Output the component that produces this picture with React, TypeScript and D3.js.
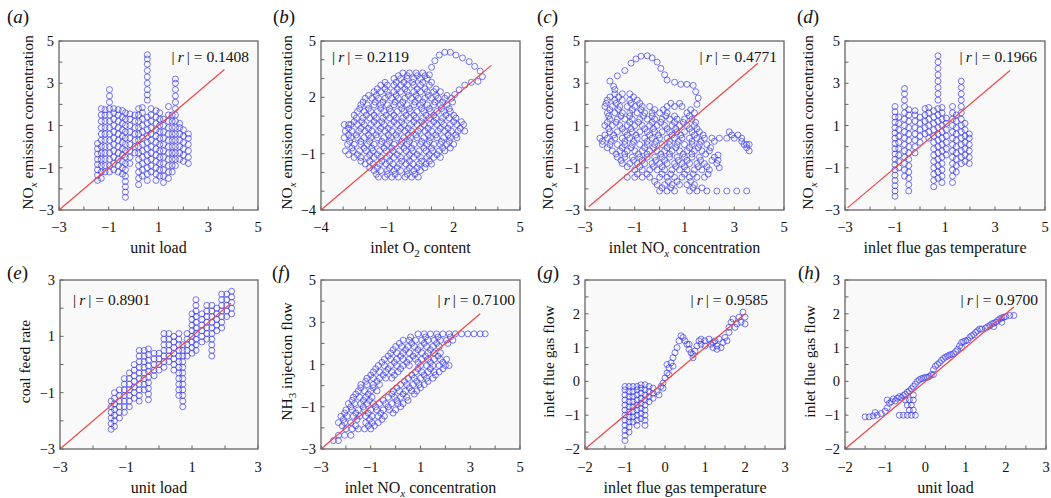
import React from "react";
import * as d3 from "d3";

type Pt = [number, number];
type Strip = [number, number[]];
type Seg = { t: string; sub?: boolean; it?: boolean };

// vertical strips: [x, [y values]]  /  horizontal rows: [y, [x values]]
const fromCols = (cols: Strip[]): Pt[] => cols.flatMap(([x, ys]) => ys.map((v) => [x, v] as Pt));
const fromRows = (rows: Strip[]): Pt[] => rows.flatMap(([v, xs]) => xs.map((x) => [x, v] as Pt));

// (a) unit load vs NOx emission
const colsA: Strip[] = [
  [-1.45, [-1.6, -1.35, -1.1, -0.85, -0.6, -0.35, -0.1, 0.15]],
  [-1.3, [-1.5, -1.2, -0.9, -0.6, -0.3, 0, 0.3, 0.6, 0.9, 1.2, 1.5, 1.8]],
  [-1.15, [-1.2, -0.9, -0.6, -0.3, 0, 0.3, 0.6, 0.9, 1.2, 1.5, 1.75]],
  [-0.97, [-1.2, -0.9, -0.6, -0.3, 0, 0.3, 0.6, 0.9, 1.2, 1.5, 1.8, 2.1, 2.4, 2.7]],
  [-0.8, [-1.1, -0.8, -0.5, -0.2, 0.1, 0.4, 0.7, 1.0, 1.3, 1.6, 1.8]],
  [-0.62, [-1.2, -0.9, -0.6, -0.3, 0, 0.3, 0.6, 0.9, 1.2, 1.5, 1.75]],
  [-0.45, [-1.3, -1.0, -0.7, -0.4, -0.1, 0.2, 0.5, 0.8, 1.1, 1.4, 1.7]],
  [-0.33, [-2.4, -2.15, -1.9, -1.65, -1.4, -1.1, -0.8, -0.5, -0.2, 0.1, 0.4, 0.7, 1.0, 1.3, 1.6]],
  [-0.15, [-0.8, -0.5, -0.2, 0.1, 0.4, 0.7, 1.0, 1.3, 1.55]],
  [0.05, [-0.3, 0, 0.3, 0.6, 0.9, 1.2, 1.5]],
  [0.2, [-1.8, -1.5, -1.2, -0.9, -0.6, -0.3, 0, 0.3, 0.6, 0.9, 1.2, 1.5, 1.8]],
  [0.35, [-1.4, -1.1, -0.8, -0.5, -0.2, 0.1, 0.4, 0.7, 1.0, 1.3, 1.6, 1.85]],
  [0.55, [-1.6, -1.3, -1.0, -0.7, -0.4, -0.1, 0.2, 0.5, 0.8, 1.1, 1.4, 2.2, 2.45, 2.7, 3.0, 3.3, 3.6, 3.9, 4.15, 4.35]],
  [0.7, [-1.2, -0.9, -0.6, -0.3, 0, 0.3, 0.6, 0.9, 1.2, 1.5, 1.8]],
  [0.9, [-1.6, -1.3, -1.0, -0.7, -0.4, -0.1, 0.2, 0.5, 0.8, 1.1, 1.4, 1.7]],
  [1.05, [-1.4, -1.1, -0.8, -0.5, -0.2, 0.1, 0.4, 0.7, 1.0, 1.3, 1.6]],
  [1.2, [-1.7, -1.4, -1.1, -0.8, -0.5, -0.2, 0.1, 0.4, 0.7, 1.0, 1.3]],
  [1.4, [-1.5, -1.2, -0.9, -0.6, -0.3, 0, 0.3, 0.6, 0.9, 1.2, 1.5, 1.9]],
  [1.55, [-1.2, -0.9, -0.6, -0.3, 0, 0.3, 0.6, 0.9, 1.2, 1.5]],
  [1.68, [-0.9, -0.6, -0.3, 0, 0.3, 0.6, 0.9, 1.2, 1.5, 1.8, 2.1, 2.4, 2.7, 3.0, 3.2]],
  [1.85, [-0.6, -0.3, 0, 0.3, 0.6, 0.9, 1.1]],
  [2.0, [-0.7, -0.4, -0.1, 0.2, 0.5, 0.8]],
  [2.2, [-0.8, -0.5, -0.2, 0.1, 0.4, 0.6]],
];

// (b) inlet O2 vs NOx emission
const rowsB: Strip[] = [
  [3.3, [-0.3, 0.0, 0.3, 0.6]],
  [3.0, [-0.7, -0.4, -0.1, 0.2, 0.5, 0.8]],
  [2.65, [-1.3, -1.0, -0.7, -0.4, -0.1, 0.2, 0.5, 0.9]],
  [2.3, [-1.6, -1.3, -1.0, -0.7, -0.4, -0.1, 0.2, 0.5, 0.8, 1.1, 1.4]],
  [1.95, [-2.0, -1.7, -1.4, -1.1, -0.8, -0.5, -0.2, 0.1, 0.4, 0.7, 1.0, 1.3, 1.6, 1.9]],
  [1.6, [-2.2, -1.9, -1.6, -1.3, -1.0, -0.7, -0.4, -0.1, 0.2, 0.5, 0.8, 1.1, 1.4, 1.7]],
  [1.25, [-2.35, -2.05, -1.75, -1.45, -1.15, -0.85, -0.55, -0.25, 0.05, 0.35, 0.65, 0.95, 1.25, 1.55, 1.85]],
  [0.9, [-2.4, -2.1, -1.8, -1.5, -1.2, -0.9, -0.6, -0.3, 0, 0.3, 0.6, 0.9, 1.2, 1.5, 1.8, 2.1]],
  [0.55, [-2.65, -2.35, -2.05, -1.75, -1.45, -1.15, -0.85, -0.55, -0.25, 0.05, 0.35, 0.65, 0.95, 1.25, 1.55, 1.85, 2.15, 2.45]],
  [0.2, [-2.9, -2.6, -2.3, -2.0, -1.7, -1.4, -1.1, -0.8, -0.5, -0.2, 0.1, 0.4, 0.7, 1.0, 1.3, 1.6, 1.9, 2.2, 2.5]],
  [-0.15, [-2.95, -2.65, -2.35, -2.05, -1.75, -1.45, -1.15, -0.85, -0.55, -0.25, 0.05, 0.35, 0.65, 0.95, 1.25, 1.55, 1.85, 2.15]],
  [-0.5, [-2.8, -2.5, -2.2, -1.9, -1.6, -1.3, -1.0, -0.7, -0.4, -0.1, 0.2, 0.5, 0.8, 1.1, 1.4, 1.7, 2.0]],
  [-0.85, [-2.9, -2.55, -2.25, -1.95, -1.65, -1.35, -1.05, -0.75, -0.45, -0.15, 0.15, 0.45, 0.75, 1.05, 1.35, 1.6]],
  [-1.2, [-2.5, -2.2, -1.9, -1.6, -1.3, -1.0, -0.7, -0.4, -0.1, 0.2, 0.5, 0.8, 1.1, 1.4]],
  [-1.55, [-2.0, -1.65, -1.35, -1.05, -0.75, -0.45, -0.15, 0.15, 0.45, 0.75, 1.0]],
  [-1.9, [-1.6, -1.3, -1.0, -0.7, -0.4, -0.1, 0.2, 0.5]],
  [-2.25, [-1.4, -1.1, -0.8, -0.5, -0.2, 0.1, 0.4]],
];
const rowsB2: Strip[] = [
  [3.15, [-0.5, -0.1, 0.35, 0.7]],
  [2.8, [-1.1, -0.6, -0.25, 0.15, 0.6, 1.0]],
  [2.45, [-1.45, -1.1, -0.55, -0.2, 0.35, 0.7, 1.2]],
  [2.1, [-1.85, -1.5, -0.95, -0.6, -0.05, 0.3, 0.85, 1.2, 1.7]],
  [1.75, [-2.1, -1.55, -1.2, -0.65, -0.3, 0.25, 0.6, 1.15, 1.5, 1.95]],
  [1.4, [-2.25, -1.85, -1.3, -0.9, -0.35, 0.0, 0.55, 0.9, 1.45, 1.8]],
  [1.05, [-2.5, -1.95, -1.6, -1.05, -0.7, -0.15, 0.2, 0.75, 1.1, 1.65, 2.0]],
  [0.7, [-2.5, -2.15, -1.6, -1.25, -0.7, -0.35, 0.2, 0.55, 1.1, 1.45, 2.0, 2.35]],
  [0.35, [-2.75, -2.2, -1.85, -1.3, -0.95, -0.4, -0.05, 0.5, 0.85, 1.4, 1.75, 2.3]],
  [0.0, [-2.75, -2.4, -1.85, -1.5, -0.95, -0.6, -0.05, 0.3, 0.85, 1.2, 1.75, 2.1]],
  [-0.35, [-2.7, -2.2, -1.8, -1.25, -0.9, -0.35, 0.0, 0.55, 0.9, 1.45, 1.8]],
  [-0.7, [-2.6, -2.05, -1.7, -1.15, -0.8, -0.25, 0.1, 0.65, 1.0, 1.5, 1.85]],
  [-1.05, [-2.75, -2.35, -1.8, -1.45, -0.9, -0.55, 0.0, 0.35, 0.9, 1.25]],
  [-1.4, [-2.2, -1.8, -1.25, -0.9, -0.35, 0.0, 0.55, 0.9]],
  [-1.75, [-1.8, -1.45, -0.9, -0.55, 0.0, 0.35, 0.7]],
  [-2.1, [-1.5, -1.0, -0.65, -0.1, 0.25]],
];
const loopB: Pt[] = [
  [0.9, 3.2], [1.0, 3.6], [1.15, 3.95], [1.35, 4.25], [1.6, 4.4], [1.85, 4.4], [2.1, 4.25],
  [2.4, 4.1], [2.7, 3.9], [2.95, 3.65], [3.2, 3.4], [3.3, 3.1], [3.1, 2.85], [2.8, 2.8],
  [2.5, 2.65], [2.25, 2.4], [2.05, 2.15], [-2.95, 0.55], [-2.75, 0.55],
];

// (c) inlet NOx vs NOx emission
const rowsC: Strip[] = [
  [2.5, [-1.8, -1.5, -1.2]],
  [2.2, [-2.1, -1.8, -1.5, -1.2, -0.9]],
  [1.9, [-2.2, -1.9, -1.6, -1.3, -1.0, -0.7, -0.4, 0.3, 0.6, 0.9]],
  [1.6, [-2.1, -1.8, -1.5, -1.2, -0.9, -0.6, -0.3, 0.0, 0.3, 1.1, 1.4]],
  [1.3, [-2.0, -1.7, -1.4, -1.1, -0.8, -0.5, -0.2, 0.1, 0.4, 0.7, 1.0, 1.3]],
  [1.0, [-2.2, -1.9, -1.6, -1.3, -1.0, -0.7, -0.4, -0.1, 0.2, 0.5, 0.8, 1.1, 1.4]],
  [0.7, [-2.0, -1.7, -1.4, -1.1, -0.8, -0.5, -0.2, 0.1, 0.4, 0.7, 1.0, 1.3, 1.6, 2.8]],
  [0.4, [-2.4, -2.1, -1.8, -1.5, -1.2, -0.9, -0.6, -0.3, 0.0, 0.3, 0.6, 0.9, 1.2, 1.5, 1.8, 2.1, 2.4, 2.7, 3.0, 3.3]],
  [0.1, [-2.3, -2.0, -1.7, -1.4, -1.1, -0.8, -0.5, -0.2, 0.1, 0.4, 0.7, 1.0, 1.3, 1.6, 1.9, 3.4, 3.6]],
  [-0.2, [-1.9, -1.6, -1.3, -1.0, -0.7, -0.4, -0.1, 0.2, 0.5, 0.8, 1.1, 1.4, 1.7, 2.0, 3.6]],
  [-0.5, [-1.7, -1.4, -1.1, -0.8, -0.5, -0.2, 0.1, 0.4, 0.7, 1.0, 1.3, 1.6, 2.2]],
  [-0.8, [-1.5, -1.2, -0.9, -0.6, -0.3, 0.0, 0.3, 0.6, 0.9, 1.2, 1.5, 1.8, 2.3]],
  [-1.1, [-1.0, -0.7, -0.4, -0.1, 0.2, 0.5, 0.8, 1.1, 1.4, 1.7, 2.0]],
  [-1.45, [-1.3, -1.0, -0.7, -0.4, 0.0, 0.3, 0.6, 0.9, 1.2, 1.5, 1.8]],
  [-1.8, [-0.1, 0.2, 0.5, 0.8, 1.1, 1.4]],
  [-2.1, [0.0, 0.3, 0.6, 1.2, 1.5, 1.9, 2.3, 2.7, 3.1, 3.5]],
];
const rowsC2: Strip[] = [
  [2.35, [-2.0, -1.65, -1.05]],
  [2.05, [-2.15, -1.75, -1.15, -0.8, 0.45, 0.8]],
  [1.75, [-2.0, -1.65, -1.1, -0.75, -0.2, 0.15, 1.25]],
  [1.45, [-2.05, -1.55, -1.2, -0.65, -0.3, 0.25, 0.6, 1.2]],
  [1.15, [-2.1, -1.75, -1.2, -0.85, -0.3, 0.05, 0.6, 0.95, 1.45]],
  [0.85, [-2.05, -1.5, -1.15, -0.6, -0.25, 0.3, 0.65, 1.2, 1.5]],
  [0.55, [-2.2, -1.85, -1.3, -0.95, -0.4, -0.05, 0.5, 0.85, 1.4, 1.75, 2.9, 3.15]],
  [0.25, [-2.3, -1.95, -1.4, -1.05, -0.5, -0.15, 0.4, 0.75, 1.3, 1.65, 2.2]],
  [-0.05, [-2.1, -1.5, -1.15, -0.6, -0.25, 0.3, 0.65, 1.2, 1.55, 2.05, 3.5]],
  [-0.35, [-1.75, -1.4, -0.85, -0.5, 0.05, 0.4, 0.95, 1.3, 1.85]],
  [-0.65, [-1.55, -1.05, -0.7, -0.15, 0.2, 0.75, 1.1, 1.65, 2.1, 2.35]],
  [-0.95, [-1.3, -0.8, -0.25, 0.1, 0.65, 1.0, 1.55, 1.9]],
  [-1.3, [-0.9, -0.5, 0.1, 0.45, 1.0, 1.35, 1.95]],
  [-1.65, [-0.2, 0.35, 0.7, 1.25]],
  [-1.95, [0.1, 0.45, 1.35, 1.7]],
];
const loopC: Pt[] = [
  [-2.0, 3.1], [-1.85, 2.85], [-1.8, 2.7], [-1.7, 3.35], [-1.4, 3.6], [-1.15, 3.95], [-0.95, 4.15],
  [-0.75, 4.28], [-0.5, 4.3], [-0.3, 4.2], [-0.1, 4.0], [0.05, 3.7], [0.2, 3.4], [0.3, 3.15],
  [0.6, 3.05], [0.85, 2.95], [1.1, 2.95], [1.35, 2.9], [1.45, 2.6], [1.55, 2.3], [1.5, 2.0],
  [2.35, -0.4], [2.4, -1.0], [3.5, 0.1], [3.3, 0.25],
];

// (d) inlet flue gas temperature vs NOx emission
const colsD: Strip[] = [
  [-1.0, [-2.35, -2.1, -1.85, -1.6, -1.35, -1.1, -0.85, -0.6, -0.35, -0.1, 0.15, 0.4, 0.65, 0.9, 1.15, 1.4, 1.65, 1.9]],
  [-0.85, [-1.0, -0.7, -0.4, -0.1, 0.2, 0.5, 0.8, 1.1, 1.4]],
  [-0.62, [-1.4, -1.1, -0.8, -0.5, -0.2, 0.1, 0.4, 0.7, 1.0, 1.3, 1.6, 1.9, 2.2, 2.5, 2.75]],
  [-0.45, [-2.1, -1.8, -1.5, -1.2, -0.9, -0.6, -0.3, 0.0, 0.3, 0.6, 0.9, 1.2, 1.5, 1.75]],
  [-0.2, [-0.3, 0.0, 0.3, 0.6, 0.9, 1.2, 1.5, 1.7]],
  [0.0, [0.2, 0.5, 0.8, 1.1, 1.4]],
  [0.2, [0.6, 0.9, 1.2, 1.5, 1.8]],
  [0.35, [0.4, 0.7, 1.0, 1.3, 1.6, 1.85]],
  [0.55, [-1.9, -1.6, -1.3, -1.0, -0.7, -0.4, -0.1, 0.2, 0.5, 0.8, 1.1, 1.4, 1.7]],
  [0.72, [-1.5, -1.2, -0.9, -0.6, -0.3, 0.0, 0.3, 0.6, 0.9, 1.2, 1.5, 1.8, 2.2, 2.5, 2.8, 3.1, 3.4, 3.7, 4.0, 4.3]],
  [0.88, [-1.7, -1.4, -1.1, -0.8, -0.5, -0.2, 0.1, 0.4, 0.7, 1.0, 1.3, 1.6, 1.85]],
  [1.05, [-0.4, -0.1, 0.2, 0.5, 0.8, 1.1, 1.35]],
  [1.3, [-1.7, -1.4, -1.1, -0.8, -0.5, -0.2, 0.1, 0.4, 0.7, 1.0, 1.3, 1.6, 1.9]],
  [1.45, [-1.2, -0.9, -0.6, -0.3, 0.0, 0.3, 0.6, 0.9, 1.2, 1.5]],
  [1.65, [-0.8, -0.5, -0.2, 0.1, 0.4, 0.7, 1.0, 1.3, 1.6, 1.9, 2.2, 2.5, 2.8, 3.1]],
  [1.8, [-0.7, -0.4, -0.1, 0.2, 0.5, 0.8, 1.1]],
  [1.97, [-0.8, -0.5, -0.2, 0.1, 0.4, 0.6]],
];

// (e) unit load vs coal feed rate
const colsE: Strip[] = [
  [-1.45, [-2.3, -2.1, -1.9, -1.7, -1.5, -1.3]],
  [-1.35, [-2.2, -2.0, -1.8, -1.6, -1.4, -1.2, -1.0]],
  [-1.2, [-1.9, -1.7, -1.5, -1.3, -1.1, -0.9]],
  [-1.05, [-1.7, -1.5, -1.3, -1.1, -0.9, -0.7, -0.5]],
  [-0.9, [-1.5, -1.3, -1.1, -0.9, -0.7, -0.5, -0.3]],
  [-0.75, [-1.2, -1.0, -0.8, -0.6, -0.4, -0.2, 0.0]],
  [-0.6, [-1.3, -1.1, -0.9, -0.7, -0.5, -0.3, -0.1, 0.1, 0.3, 0.5]],
  [-0.45, [-0.9, -0.7, -0.5, -0.3, -0.1, 0.1, 0.3, 0.5]],
  [-0.32, [-1.25, -1.05, -0.85, -0.65, -0.45, -0.25, -0.05, 0.15, 0.35, 0.55]],
  [-0.15, [-0.4, -0.2, 0.0, 0.2, 0.4]],
  [0.0, [-0.2, 0.0, 0.2, 0.4]],
  [0.15, [-0.1, 0.1, 0.3, 0.5, 0.7, 0.9, 1.1]],
  [0.3, [0.1, 0.3, 0.5, 0.7, 0.9, 1.1]],
  [0.45, [-0.2, 0.0, 0.2, 0.4, 0.6, 0.8, 1.0]],
  [0.6, [-1.1, -0.9, -0.7, -0.5, -0.3, -0.1, 0.1, 0.3, 0.5, 0.7, 0.9, 1.1]],
  [0.72, [-1.5, -1.3, -1.1, -0.9, -0.7, -0.5, -0.3, -0.1, 0.1, 0.3, 0.5, 0.7]],
  [0.85, [0.3, 0.5, 0.7, 0.9, 1.1]],
  [1.0, [0.4, 0.6, 0.8, 1.0, 1.2, 1.4, 1.6, 1.8]],
  [1.12, [0.5, 0.7, 0.9, 1.1, 1.3, 1.5, 1.7, 1.9, 2.1, 2.3]],
  [1.3, [0.8, 1.0, 1.2, 1.4, 1.6, 1.8]],
  [1.45, [0.9, 1.1, 1.3, 1.5, 1.7, 1.9, 2.1]],
  [1.6, [0.3, 0.5, 0.7, 0.9, 1.1, 1.3, 1.5, 1.7, 1.9, 2.1]],
  [1.75, [1.2, 1.4, 1.6, 1.8, 2.0]],
  [1.9, [1.3, 1.5, 1.7, 1.9, 2.1, 2.3, 2.5]],
  [2.05, [1.7, 1.9, 2.1, 2.3, 2.5]],
  [2.2, [1.8, 2.0, 2.2, 2.4, 2.6]],
];

// (f) inlet NOx vs NH3 injection flow
const rowsF: Strip[] = [
  [-2.6, [-2.5, -2.3]],
  [-2.35, [-2.3, -2.05, -1.8]],
  [-2.05, [-2.0, -1.75, -1.5, -1.25, -1.0]],
  [-1.75, [-2.3, -2.05, -1.8, -1.2, -0.95, -0.7]],
  [-1.45, [-2.2, -1.95, -1.7, -1.45, -1.2, -0.95, -0.7, -0.45]],
  [-1.15, [-2.0, -1.75, -1.5, -1.25, -1.0, -0.75, -0.5, -0.25, 0.0]],
  [-0.85, [-1.9, -1.65, -1.4, -1.15, -0.9, -0.65, -0.4, -0.15, 0.1, 0.3]],
  [-0.55, [-1.7, -1.45, -1.2, -0.95, -0.3, -0.05, 0.2, 0.45]],
  [-0.25, [-1.5, -1.25, -1.0, -0.75, -0.1, 0.15, 0.4, 0.65, 0.85]],
  [0.05, [-1.4, -1.15, -0.9, -0.65, 0.2, 0.45, 0.7, 0.95, 1.15]],
  [0.35, [-1.15, -0.9, -0.65, -0.4, -0.15, 0.5, 0.75, 1.0, 1.25, 1.5]],
  [0.65, [-0.9, -0.65, -0.4, -0.15, 0.1, 0.8, 1.05, 1.3, 1.55, 1.75]],
  [0.95, [-0.7, -0.45, -0.2, 0.05, 0.3, 0.55, 1.0, 1.25, 1.5, 1.75, 2.0, 2.15]],
  [1.25, [-0.45, -0.2, 0.05, 0.3, 0.55, 0.8, 1.05, 1.3, 1.55, 1.8, 2.05]],
  [1.55, [-0.2, 0.05, 0.3, 0.55, 0.8, 1.05, 1.3, 1.55, 1.8]],
  [1.85, [0.0, 0.25, 0.5, 0.75, 1.0, 1.25, 1.5, 1.75]],
  [2.15, [0.3, 0.55, 0.8, 1.05, 1.3, 1.55, 1.8, 2.05, 2.3]],
  [2.45, [0.9, 1.15, 1.4, 1.65, 1.9, 2.15, 2.4, 2.65, 2.9, 3.15, 3.4, 3.6]],
];
const rowsF2: Strip[] = [
  [-1.9, [-2.15, -1.6, -1.1, -0.85]],
  [-1.6, [-2.1, -1.55, -1.05, -0.55]],
  [-1.3, [-2.05, -1.6, -1.1, -0.6, -0.1]],
  [-1.0, [-1.8, -1.3, -0.8, -0.3, 0.2]],
  [-0.7, [-1.75, -1.3, -1.05, -0.5, 0.05, 0.5]],
  [-0.4, [-1.6, -1.1, -0.15, 0.3, 0.75]],
  [-0.1, [-1.4, -0.9, 0.05, 0.55, 1.0]],
  [0.2, [-1.2, -0.75, 0.35, 0.85, 1.3]],
  [0.5, [-1.0, -0.5, -0.05, 0.65, 1.15, 1.6]],
  [0.8, [-0.8, -0.3, 0.2, 0.9, 1.4, 1.9]],
  [1.1, [-0.55, -0.05, 0.45, 0.9, 1.4, 1.9]],
  [1.4, [-0.3, 0.2, 0.7, 1.2, 1.7]],
  [1.7, [-0.1, 0.4, 0.9, 1.4]],
  [2.0, [0.15, 0.65, 1.15, 1.65, 2.1]],
  [2.3, [0.6, 1.2, 1.7, 2.2]],
];

// (g) inlet flue gas temperature vs inlet flue gas flow
const colsG: Strip[] = [
  [-1.0, [-1.75, -1.6, -1.45, -1.3, -1.15, -1.0, -0.85, -0.7, -0.55, -0.4, -0.25, -0.15]],
  [-0.9, [-1.5, -1.35, -1.2, -1.05, -0.9, -0.75, -0.6, -0.45, -0.3, -0.15]],
  [-0.8, [-1.2, -1.05, -0.9, -0.75, -0.6, -0.45, -0.3, -0.15]],
  [-0.7, [-1.3, -1.15, -1.0, -0.85, -0.7, -0.55, -0.4, -0.25, -0.15]],
  [-0.6, [-1.1, -0.95, -0.8, -0.65, -0.5, -0.35, -0.2, -0.1]],
  [-0.5, [-1.3, -1.15, -1.0, -0.85, -0.7, -0.55, -0.4, -0.25, -0.1]],
  [-0.4, [-0.6, -0.45, -0.3, -0.15]],
  [-0.3, [-0.5, -0.35, -0.2]],
];
const pathG: Pt[] = [
  [-0.2, -0.3], [-0.15, -0.4], [-0.1, -0.15], [-0.05, -0.05], [-0.05, -0.2], [0.0, 0.1], [0.05, 0.25],
  [0.05, 0.5], [0.1, 0.4], [0.1, 0.2], [0.15, 0.55], [0.2, 0.7], [0.2, 0.45], [0.25, 0.85], [0.3, 1.0],
  [0.35, 1.2], [0.4, 1.35], [0.45, 1.3], [0.5, 1.2], [0.55, 1.1], [0.6, 0.95], [0.6, 1.1], [0.65, 0.85],
  [0.7, 0.8], [0.7, 0.7], [0.75, 0.9], [0.8, 1.05], [0.85, 1.2], [0.9, 1.25], [0.9, 1.1], [1.0, 1.2],
  [1.0, 1.05], [1.1, 1.25], [1.15, 1.1], [1.2, 1.0], [1.2, 1.15], [1.25, 1.2], [1.3, 1.05], [1.3, 0.95],
  [1.35, 1.25], [1.4, 1.0], [1.45, 1.15], [1.5, 1.3], [1.55, 1.2], [1.6, 1.45], [1.6, 1.6], [1.65, 1.75],
  [1.7, 1.85], [1.75, 1.6], [1.8, 1.7], [1.85, 1.9], [1.9, 1.75], [1.95, 2.05], [2.0, 1.9], [2.0, 1.7],
];

// (h) unit load vs inlet flue gas flow
const pointsH: Pt[] = [
  [-1.5, -1.05], [-1.4, -1.05], [-1.3, -1.02], [-1.2, -1.0], [-1.1, -0.95], [-1.25, -0.92], [-1.0, -0.88],
  [-0.95, -0.78], [-0.9, -0.65], [-0.95, -0.55], [-0.85, -0.6], [-0.8, -0.52], [-0.75, -0.58], [-0.7, -0.5],
  [-0.65, -0.45], [-0.6, -0.48], [-0.55, -0.42], [-0.5, -0.38], [-0.45, -0.32], [-0.4, -0.28], [-0.35, -0.22],
  [-0.3, -0.15], [-0.25, -0.08], [-0.2, 0.0], [-0.15, 0.05], [-0.1, 0.08], [-0.05, 0.1], [0.0, 0.12],
  [0.05, 0.12], [0.1, 0.15], [0.15, 0.2], [0.2, 0.35], [0.25, 0.45], [0.3, 0.5], [0.35, 0.55], [0.4, 0.62],
  [0.45, 0.68], [0.5, 0.72], [0.55, 0.75], [0.6, 0.78], [0.65, 0.8], [0.7, 0.82], [0.75, 0.88], [0.8, 0.95],
  [0.85, 1.05], [0.9, 1.15], [0.95, 1.18], [1.0, 1.2], [1.05, 1.22], [1.1, 1.3], [1.15, 1.35], [1.2, 1.38],
  [1.25, 1.45], [1.3, 1.5], [1.35, 1.55], [1.4, 1.55], [1.5, 1.58], [1.55, 1.62], [1.6, 1.65], [1.65, 1.7],
  [1.7, 1.72], [1.75, 1.75], [1.8, 1.8], [1.85, 1.85], [1.9, 1.88], [1.95, 1.9], [2.0, 1.92], [2.1, 1.95],
  [2.2, 1.95], [1.7, 1.62], [1.9, 1.75], [0.9, 1.0], [0.2, 0.2],
  [-0.5, -0.55], [-0.45, -0.7], [-0.4, -0.85], [-0.35, -0.7], [-0.3, -0.55], [-0.3, -0.85], [-0.35, -1.0],
  [-0.45, -1.0], [-0.55, -1.0], [-0.65, -1.0], [-0.25, -1.0], [-0.4, -0.55], [-0.3, -0.4],
];

// red fitted lines, [x0, x1] on y = x
const fitA = [-3, 3.65];
const fitB = [-4, 3.7];
const fitC = [-2.85, 3.95];
const fitD = [-2.9, 3.6];
const fitE = [-3, 2.18];
const fitF = [-3, 3.4];
const fitG = [-2, 2.0];
const fitH = [-2, 2.2];

const rValues = ["0.1408", "0.2119", "0.4771", "0.1966", "0.8901", "0.7100", "0.9585", "0.9700"];
const letters = ["a", "b", "c", "d", "e", "f", "g", "h"];

const NOX: Seg[] = [{ t: "NO" }, { t: "x", sub: true, it: true }, { t: " emission concentration" }];
const xTitles: Seg[][] = [
  [{ t: "unit load" }],
  [{ t: "inlet O" }, { t: "2", sub: true }, { t: " content" }],
  [{ t: "inlet NO" }, { t: "x", sub: true, it: true }, { t: " concentration" }],
  [{ t: "inlet flue gas temperature" }],
  [{ t: "unit load" }],
  [{ t: "inlet NO" }, { t: "x", sub: true, it: true }, { t: " concentration" }],
  [{ t: "inlet flue gas temperature" }],
  [{ t: "unit load" }],
];
const yTitles: Seg[][] = [
  NOX, NOX, NOX, NOX,
  [{ t: "coal feed rate" }],
  [{ t: "NH" }, { t: "3", sub: true }, { t: " injection flow" }],
  [{ t: "inlet flue gas flow" }],
  [{ t: "inlet flue gas flow" }],
];

const ticks53 = [-3, -1, 1, 3, 5];
const ticks45 = [-4, -1, 2, 5];
const ticks33 = [-3, -1, 1, 3];
const ticks23 = [-2, -1, 0, 1, 2, 3];

const FONT = "'Liberation Serif', 'Times New Roman', serif";

const layout = [
  { box: [59, 41, 258, 210], dom: [-3, 5], ticks: ticks53, minor: 1, pts: fromCols(colsA), fit: fitA, rPos: [249, 62, "end"], yOff: 26, lx: 7, row: 0 },
  { box: [321, 41, 520, 210], dom: [-4, 5], ticks: ticks45, minor: 1, pts: [...fromRows(rowsB), ...fromRows(rowsB2), ...loopB], fit: fitB, rPos: [332, 62, "start"], yOff: 29, lx: 273, row: 0 },
  { box: [585, 41, 784, 210], dom: [-3, 5], ticks: ticks53, minor: 1, pts: [...fromRows(rowsC), ...fromRows(rowsC2), ...loopC], fit: fitC, rPos: [777, 62, "end"], yOff: 32, lx: 537, row: 0 },
  { box: [845, 41, 1045, 210], dom: [-3, 5], ticks: ticks53, minor: 1, pts: fromCols(colsD), fit: fitD, rPos: [1037, 62, "end"], yOff: 32, lx: 797, row: 0 },
  { box: [60, 280, 258, 449], dom: [-3, 3], ticks: ticks33, minor: 1, pts: fromCols(colsE), fit: fitE, rPos: [73, 305, "start"], yOff: 30, lx: 7, row: 1 },
  { box: [321, 280, 520, 449], dom: [-3, 5], ticks: ticks53, minor: 1, pts: [...fromRows(rowsF), ...fromRows(rowsF2)], fit: fitF, rPos: [515, 305, "end"], yOff: 29, lx: 272, row: 1 },
  { box: [585, 280, 785, 449], dom: [-2, 3], ticks: ticks23, minor: 0.5, pts: [...fromCols(colsG), ...pathG], fit: fitG, rPos: [768, 305, "end"], yOff: 31, lx: 537, row: 1 },
  { box: [845, 280, 1046, 449], dom: [-2, 3], ticks: ticks23, minor: 0.5, pts: pointsH, fit: fitH, rPos: [1038, 305, "end"], yOff: 30, lx: 798, row: 1 },
];

const fmt = d3.format("");

const Segs = ({ segs }: { segs: Seg[] }) => (
  <>
    {segs.map((s, i) =>
      s.sub ? (
        <tspan key={i} dy={4} fontSize={11} fontStyle={s.it ? "italic" : "normal"}>{s.t}</tspan>
      ) : (
        <tspan key={i} dy={i > 0 && segs[i - 1].sub ? -4 : 0}>{s.t}</tspan>
      )
    )}
  </>
);

const Panel = ({ i }: { i: number }) => {
  const p = layout[i];
  const [x0, y0, x1, y1] = p.box;
  const x = d3.scaleLinear().domain(p.dom).range([x0, x1]);
  const y = d3.scaleLinear().domain(p.dom).range([y1, y0]);
  const minor = d3.range(p.dom[0], p.dom[1] + 1e-9, p.minor);
  const tickBase = p.row === 0 ? 232 : 472;
  const titleBase = p.row === 0 ? 253 : 493;
  const letterBase = p.row === 0 ? 23 : 279;
  const [rx, ry, ranchor] = p.rPos as [number, number, string];
  const cy = (y0 + y1) / 2 - 3;
  const tx = x0 - p.yOff;

  return (
    <g fontFamily={FONT} fill="#111">
      <rect x={x0} y={y0} width={x1 - x0} height={y1 - y0} fill="#f9f9f9" />
      {/* inward ticks */}
      {minor.map((v) => (
        <g key={"t" + v} stroke="#666" strokeWidth={1}>
          <line x1={x(v)} x2={x(v)} y1={y1} y2={y1 - 3.5} />
          <line x1={x0} x2={x0 + 3.5} y1={y(v)} y2={y(v)} />
        </g>
      ))}
      <g fill="none" stroke="#3030ee" strokeOpacity={0.72} strokeWidth={0.9}>
        {p.pts.map((d, k) => (
          <circle key={k} cx={x(d[0])} cy={y(d[1])} r={3} />
        ))}
      </g>
      <line x1={x(p.fit[0])} y1={y(p.fit[0])} x2={x(p.fit[1])} y2={y(p.fit[1])} stroke="#f04848" strokeWidth={1.2} />
      <rect x={x0} y={y0} width={x1 - x0} height={y1 - y0} fill="none" stroke="#666" strokeWidth={1.3} />
      {p.ticks.map((v) => (
        <text key={"x" + v} x={x(v)} y={tickBase} fontSize={14.5} textAnchor="middle">{fmt(v)}</text>
      ))}
      {p.ticks.map((v) => (
        <text key={"y" + v} x={x0 - 5} y={y(v) + 5} fontSize={14.5} textAnchor="end">{fmt(v)}</text>
      ))}
      <text x={(x0 + x1) / 2} y={titleBase} fontSize={16} textAnchor="middle">
        <Segs segs={xTitles[i]} />
      </text>
      <text transform={`translate(${tx},${cy}) rotate(-90)`} fontSize={15.5} textAnchor="middle">
        <Segs segs={yTitles[i]} />
      </text>
      <text x={rx} y={ry} fontSize={15.5} textAnchor={ranchor}>
        <tspan>|&#8201;</tspan>
        <tspan fontStyle="italic">r</tspan>
        <tspan>&#8201;| = {rValues[i]}</tspan>
      </text>
      <text x={p.lx} y={letterBase} fontSize={19}>
        <tspan>(</tspan>
        <tspan fontStyle="italic">{letters[i]}</tspan>
        <tspan>)</tspan>
      </text>
    </g>
  );
};

export default function App() {
  return (
    <svg
      width={1051}
      height={498}
      viewBox="0 0 1051 498"
      style={{ position: "absolute", left: 0, top: 0, background: "#fff" }}
    >
      {layout.map((_, i) => (
        <Panel key={i} i={i} />
      ))}
    </svg>
  );
}
